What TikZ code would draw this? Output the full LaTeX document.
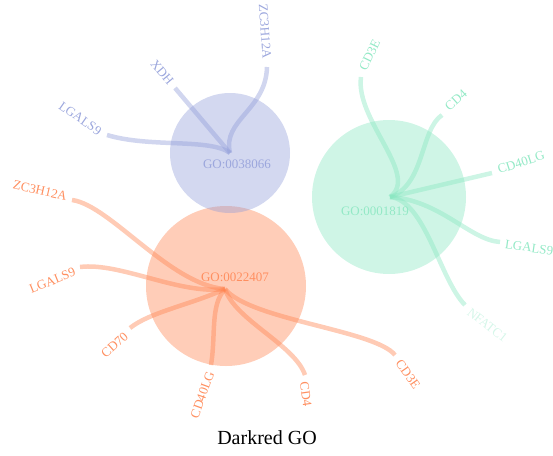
\documentclass[tikz,border=0pt]{standalone}
\usepackage{fontspec}
\setmainfont{Liberation Serif}
\begin{document}
\begin{tikzpicture}[x=1pt,y=-1pt,
  every node/.style={font=\fontsize{13}{15}\selectfont, inner sep=1pt},
  hubcircle/.style={fill=#1, fill opacity=0.4, draw=none},
  edgeline/.style={draw=#1, draw opacity=0.42, line width=4.5pt},
  genelabel/.style={text=#1!90!white},
  golabel/.style={text=#1!90!white}]
\definecolor{gblue}{HTML}{919DD9}
\definecolor{gorange}{HTML}{FF824E}
\definecolor{ggreen}{HTML}{87E6C0}
\useasboundingbox (0,0) rectangle (553,455);

% circles
\node[circle, minimum size=160pt, hubcircle=gorange] (co) at (226,286) {};
\node[circle, minimum size=120pt, hubcircle=gblue] (cb) at (230,153) {};
\node[circle, minimum size=154pt, hubcircle=ggreen] (cg) at (389,197) {};

% hubs
\coordinate (hb) at (230,153);
\coordinate (hg) at (390,197);
\coordinate (ho) at (225,289);

% blue ends
\coordinate (b1) at (107,135);
\coordinate (b2) at (175,88);
\coordinate (b3) at (267,67);
% green ends
\coordinate (g1) at (361,77);
\coordinate (g2) at (442,115);
\coordinate (g3) at (492,173);
\coordinate (g4) at (500,242);
\coordinate (g5) at (465,305);
% orange ends
\coordinate (o1) at (72,200);
\coordinate (o2) at (80,267);
\coordinate (o3) at (130,328);
\coordinate (o4) at (211,365);
\coordinate (o5) at (305,375);
\coordinate (o6) at (395,355);

% blue edges
\draw[edgeline=gblue] (b1) .. controls (150,148) and (210,138) .. (hb);
\draw[edgeline=gblue] (b2) -- (hb);
\draw[edgeline=gblue] (b3) .. controls (266,110) and (222,120) .. (hb);

% green edges
\draw[edgeline=ggreen] (g1) .. controls (355,120) and (420,175) .. (hg);
\draw[edgeline=ggreen] (g2) .. controls (420,130) and (425,185) .. (hg);
\draw[edgeline=ggreen] (g3) -- (hg);
\draw[edgeline=ggreen] (g4) .. controls (470,240) and (440,200) .. (hg);
\draw[edgeline=ggreen] (g5) .. controls (440,280) and (425,200) .. (hg);

% orange edges
\draw[edgeline=gorange] (o1) .. controls (110,205) and (170,285) .. (ho);
\draw[edgeline=gorange] (o2) .. controls (120,262) and (180,295) .. (ho);
\draw[edgeline=gorange] (o3) .. controls (150,312) and (190,305) .. (ho);
\draw[edgeline=gorange] (o4) .. controls (216,335) and (210,305) .. (ho);
\draw[edgeline=gorange] (o5) .. controls (295,345) and (235,320) .. (ho);
\draw[edgeline=gorange] (o6) .. controls (375,330) and (250,320) .. (ho);

% GO labels
\node[golabel=gblue] (lb) at (237,164) {GO:0038066};
\node[golabel=ggreen] (lg) at (375,211) {GO:0001819};
\node[golabel=gorange] (lo) at (235,277) {GO:0022407};

% blue gene labels
\node[genelabel=gblue, anchor=east, rotate=-35] (tb1) at (101,133) {LGALS9};
\node[genelabel=gblue, anchor=east, rotate=-50] (tb2) at (172,84) {XDH};
\node[genelabel=gblue, anchor=east, rotate=-86] (tb3) at (267,60) {ZC3H12A};

% green gene labels
\node[genelabel=ggreen, anchor=west, rotate=64] (tg1) at (362,71) {CD3E};
\node[genelabel=ggreen, anchor=west, rotate=42] (tg2) at (446,109) {CD4};
\node[genelabel=ggreen, anchor=west, rotate=18] (tg3) at (497,170) {CD40LG};
\node[genelabel=ggreen, anchor=west, rotate=-8] (tg4) at (504,244) {LGALS9};
\node[text=ggreen!35!white, anchor=west, rotate=-38] (tg5) at (468,310) {NFATC1};

% orange gene labels
\node[genelabel=gorange, anchor=east, rotate=-13] (to1) at (68,197) {ZC3H12A};
\node[genelabel=gorange, anchor=east, rotate=22] (to2) at (76,271) {LGALS9};
\node[genelabel=gorange, anchor=east, rotate=42] (to3) at (127,334) {CD70};
\node[genelabel=gorange, anchor=east, rotate=70] (to4) at (211,371) {CD40LG};
\node[genelabel=gorange, anchor=west, rotate=-82] (to5) at (304,381) {CD4};
\node[genelabel=gorange, anchor=west, rotate=-55] (to6) at (398,360) {CD3E};

% title
\node[font=\fontsize{20}{24}\selectfont] (title) at (267,438) {Darkred GO};
\end{tikzpicture}
\end{document}
